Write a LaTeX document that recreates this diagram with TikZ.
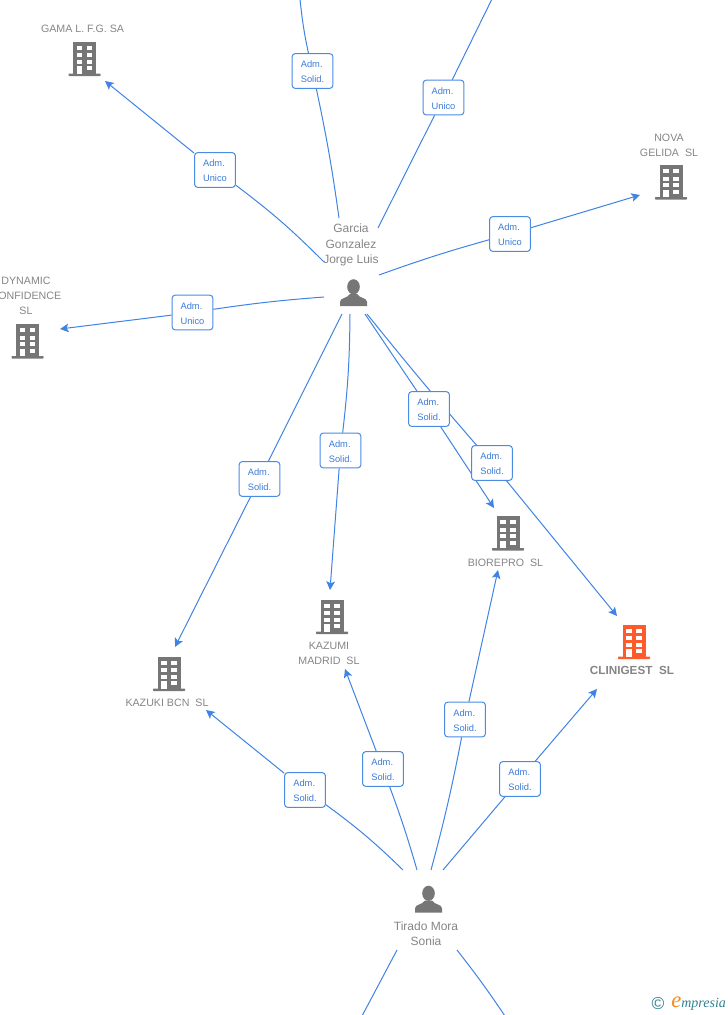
\documentclass[tikz,border=0pt]{standalone}
\usepackage{fontspec}
\setmainfont{Liberation Sans}
\newfontfamily\logofont{Liberation Serif}
\usetikzlibrary{arrows.meta,backgrounds}
\definecolor{linkblue}{HTML}{3F83E4}
\definecolor{boxblue}{HTML}{4A8BE6}
\definecolor{txtblue}{HTML}{3B7BD8}
\definecolor{txtgray}{HTML}{858585}
\definecolor{icongray}{HTML}{767676}
\definecolor{iconorange}{HTML}{FF5A2C}
\definecolor{logoteal}{HTML}{2F7F8F}
\definecolor{logoorange}{HTML}{F28A1E}
\newcommand{\roletext}[1]{\rule{0pt}{6.6pt}Adm.\\#1}
\tikzset{
  rolebox/.style={draw=boxblue,fill=white,line width=0.75pt,rounded corners=2.2pt,minimum width=30.5pt,minimum height=26pt,inner sep=0pt,align=left,text=txtblue,font=\fontsize{7}{11.2}\selectfont},
  link/.style={draw=linkblue,line width=0.75pt},
  linkarrow/.style={link,-{Stealth[length=6.5pt,width=6.5pt,inset=1.5pt]}},
  company/.style={text=txtgray,align=center,inner sep=0pt,font=\fontsize{8}{11.2}\selectfont},
  person/.style={text=txtgray,align=center,inner sep=0pt,font=\fontsize{9}{11.4}\selectfont},
  pics/building/.style={code={
    \fill[#1,rounded corners=0.4pt] (-16,-1.5) rectangle (16,1);
    \fill[#1] (-11.5,-33.5) rectangle (11.5,0);
    \foreach \r/\h in {-29.5/4.3,-22/4,-15.5/4}{
      \fill[white] (-7.7,\r) rectangle (-2.4,\r+\h);
      \fill[white] (2.4,\r) rectangle (7.7,\r+\h);
    }
    \fill[white] (-7.7,-9) rectangle (-2.4,-1.5);
    \fill[white] (2.4,-9) rectangle (7.7,-4.7);
  }},
  pics/personicon/.style={code={
    \fill[icongray] (0,-19.2) ellipse (6.3 and 7.6);
    \fill[icongray] (-13.5,0) -- (-13.5,-4) .. controls (-13.5,-8.5) and (-6,-7.5) .. (-3.5,-12) -- (3.5,-12) .. controls (6,-7.5) and (13.5,-8.5) .. (13.5,-4) -- (13.5,0) -- cycle;
  }}
}
\begin{document}
\begin{tikzpicture}[x=0.75pt,y=-0.75pt]
\useasboundingbox (0,0) rectangle (728,1015);
\clip (0,0) rectangle (728,1015);

% free ends
\coordinate (topA) at (300,-1);
\coordinate (topB) at (492,-1);
\coordinate (gA) at (339,218);
\coordinate (gB) at (378,228);
\coordinate (gC) at (324,262);
\coordinate (gD) at (379,275);
\coordinate (gE) at (324,297);
\coordinate (gF) at (342,314);
\coordinate (gG) at (350,314);
\coordinate (gH) at (365,314);
\coordinate (gI) at (367,314);
\coordinate (tA) at (403,870);
\coordinate (tB) at (417,870);
\coordinate (tC) at (431,870);
\coordinate (tD) at (443,870);
\coordinate (tE) at (397,950);
\coordinate (tF) at (457,950);
\coordinate (botA) at (362,1016);
\coordinate (botB) at (505,1016);
\coordinate (toGama) at (105,81);
\coordinate (toNova) at (640,195);
\coordinate (toDyn) at (60,329);
\coordinate (toKazuki) at (175,647);
\coordinate (toKazumi) at (330,590);
\coordinate (toBio) at (494,508);
\coordinate (toClin) at (617,616);
\coordinate (toKazuki2) at (206,710);
\coordinate (toKazumi2) at (345,669);
\coordinate (toBio2) at (498,570);
\coordinate (toClin2) at (597,689);

% role boxes
\node[rolebox] (b1) at (312.5,71) {\roletext{Solid.}};
\node[rolebox] (b2) at (443.5,97.5) {\roletext{Unico}};
\node[rolebox] (b3) at (215,170) {\roletext{Unico}};
\node[rolebox] (b4) at (510,234) {\roletext{Unico}};
\node[rolebox] (b5) at (192.5,312.5) {\roletext{Unico}};
\node[rolebox] (b6) at (259.5,479) {\roletext{Solid.}};
\node[rolebox] (b7) at (340.5,450.5) {\roletext{Solid.}};
\node[rolebox] (b8) at (429,409) {\roletext{Solid.}};
\node[rolebox] (b9) at (492,463) {\roletext{Solid.}};
\node[rolebox] (b10) at (305,790) {\roletext{Solid.}};
\node[rolebox] (b11) at (383,769) {\roletext{Solid.}};
\node[rolebox] (b12) at (465,719.5) {\roletext{Solid.}};
\node[rolebox] (b13) at (520,779) {\roletext{Solid.}};

% connectors
\begin{scope}[on background layer]
\draw[link] (topA) to[bend right=3] (b1);
\draw[link] (b1) to[bend left=2] (gA);
\draw[link] (topB) -- (b2);
\draw[link] (b2) -- (gB);
\draw[linkarrow] (b3) -- (toGama);
\draw[link] (gC) to[bend right=4] (b3);
\draw[link] (gD) to[bend left=2] (b4);
\draw[linkarrow] (b4) -- (toNova);
\draw[link] (gE) to[bend right=2] (b5);
\draw[linkarrow] (b5) -- (toDyn);
\draw[link] (gF) -- (b6);
\draw[linkarrow] (b6) -- (toKazuki);
\draw[link] (gG) to[bend left=3] (b7);
\draw[linkarrow] (b7) -- (toKazumi);
\draw[link] (gH) -- (b8);
\draw[linkarrow] (b8) -- (toBio);
\draw[link] (gI) to[bend right=1] (b9);
\draw[linkarrow] (b9) -- (toClin);
\draw[link] (tA) to[bend right=4] (b10);
\draw[linkarrow] (b10) -- (toKazuki2);
\draw[link] (tB) to[bend right=2] (b11);
\draw[linkarrow] (b11) -- (toKazumi2);
\draw[link] (tC) to[bend right=2] (b12);
\draw[linkarrow] (b12) -- (toBio2);
\draw[link] (tD) -- (b13);
\draw[linkarrow] (b13) -- (toClin2);
\draw[link] (tE) -- (botA);
\draw[link] (tF) to[bend left=2] (botB);
\end{scope}

% companies
\pic at (84.5,75) {building=icongray};
\node[company] (gama) at (82.5,28.5) {GAMA L. F.G. SA};
\pic at (671,198.5) {building=icongray};
\node[company] (nova) at (669,145) {NOVA\\GELIDA\ \ SL};
\pic at (27.5,357.5) {building=icongray};
\node[company] (dyn) at (26,296) {DYNAMIC\\CONFIDENCE\\SL};
\pic at (169,690) {building=icongray};
\node[company] (kazuki) at (167,702.5) {KAZUKI BCN\ \ SL};
\pic at (332,633) {building=icongray};
\node[company] (kazumi) at (329,653) {KAZUMI\\MADRID\ \ SL};
\pic at (508,549.5) {building=icongray};
\node[company] (bio) at (505.5,562.5) {BIOREPRO\ \ SL};
\pic at (634,658) {building=iconorange};
\node[company,font=\fontsize{8.8}{11.2}\selectfont\bfseries] (clin) at (632,670.5) {CLINIGEST\ \ SL};

% people
\pic at (353.5,306) {personicon};
\node[person] (garcia) at (351,245) {Garcia\\Gonzalez\\Jorge Luis};
\pic at (428.5,912.5) {personicon};
\node[person] (tirado) at (426,933.5) {Tirado Mora\\Sonia};

% logo
\node[inner sep=0pt,text=logoteal,font=\fontsize{13}{13}\selectfont] (copy) at (658,1004) {©};
\node[inner sep=0pt,anchor=west,font=\logofont\fontsize{10.5}{12}\selectfont\itshape,text=logoteal] (logo) at (671,1004) {\textcolor{logoorange}{\fontsize{17}{12}\selectfont e}mpresia};
\end{tikzpicture}
\end{document}
